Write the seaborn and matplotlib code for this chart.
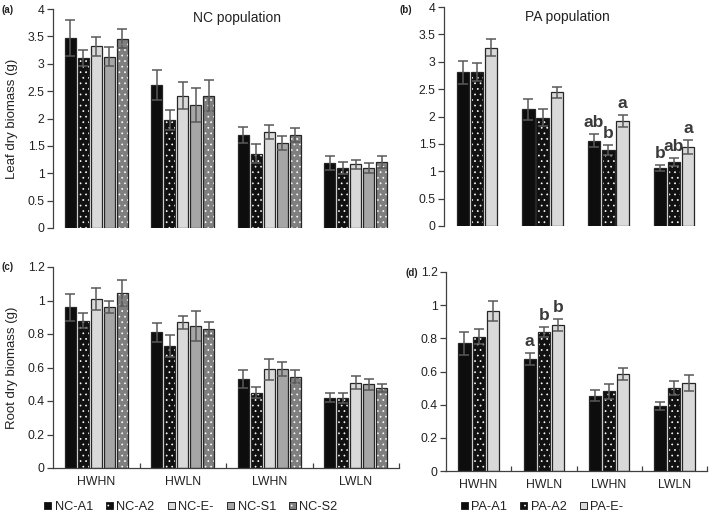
import numpy as np
import pandas as pd
import matplotlib
matplotlib.use("Agg")
import matplotlib.pyplot as plt
import matplotlib.colors as mcolors
from matplotlib.patches import Patch
from matplotlib.ticker import FuncFormatter, MultipleLocator, FixedLocator
import seaborn as sns

# ---------------- data ----------------
treatments = ["HWHN", "HWLN", "LWHN", "LWLN"]
nc_lines = ["NC-A1", "NC-A2", "NC-E-", "NC-S1", "NC-S2"]
pa_lines = ["PA-A1", "PA-A2", "PA-E-"]

# (a) NC leaf dry biomass (g)
nc_leaf_a1 = [3.47, 2.61, 1.70, 1.19]
nc_leaf_a2 = [3.10, 1.97, 1.36, 1.09]
nc_leaf_e = [3.32, 2.42, 1.75, 1.16]
nc_leaf_s1 = [3.13, 2.25, 1.55, 1.10]
nc_leaf_s2 = [3.46, 2.42, 1.70, 1.21]
nc_leaf_a1_se = [0.33, 0.27, 0.15, 0.13]
nc_leaf_a2_se = [0.15, 0.18, 0.18, 0.11]
nc_leaf_e_se = [0.17, 0.24, 0.13, 0.08]
nc_leaf_s1_se = [0.17, 0.31, 0.13, 0.09]
nc_leaf_s2_se = [0.17, 0.28, 0.13, 0.11]

# (b) PA leaf dry biomass (g)
pa_leaf_a1 = [2.81, 2.13, 1.56, 1.06]
pa_leaf_a2 = [2.81, 1.98, 1.39, 1.17]
pa_leaf_e = [3.26, 2.44, 1.92, 1.44]
pa_leaf_a1_se = [0.21, 0.19, 0.12, 0.05]
pa_leaf_a2_se = [0.16, 0.15, 0.09, 0.07]
pa_leaf_e_se = [0.15, 0.10, 0.11, 0.13]
pa_leaf_a1_letters = ["", "", "ab", "b"]
pa_leaf_a2_letters = ["", "", "b", "ab"]
pa_leaf_e_letters = ["", "", "a", "a"]

# (c) NC root dry biomass (g)
nc_root_a1 = [0.96, 0.81, 0.53, 0.42]
nc_root_a2 = [0.88, 0.73, 0.45, 0.42]
nc_root_e = [1.01, 0.87, 0.59, 0.51]
nc_root_s1 = [0.96, 0.85, 0.59, 0.50]
nc_root_s2 = [1.045, 0.83, 0.545, 0.48]
nc_root_a1_se = [0.08, 0.057, 0.055, 0.025]
nc_root_a2_se = [0.045, 0.065, 0.032, 0.03]
nc_root_e_se = [0.065, 0.038, 0.062, 0.037]
nc_root_s1_se = [0.036, 0.09, 0.042, 0.034]
nc_root_s2_se = [0.077, 0.04, 0.038, 0.024]

# (d) PA root dry biomass (g)
pa_root_a1 = [0.77, 0.675, 0.455, 0.39]
pa_root_a2 = [0.81, 0.84, 0.48, 0.50]
pa_root_e = [0.965, 0.88, 0.585, 0.53]
pa_root_a1_se = [0.068, 0.037, 0.035, 0.025]
pa_root_a2_se = [0.047, 0.03, 0.045, 0.04]
pa_root_e_se = [0.063, 0.037, 0.035, 0.048]
pa_root_a1_letters = ["", "a", "", ""]
pa_root_a2_letters = ["", "b", "", ""]
pa_root_e_letters = ["", "b", "", ""]

# ---------------- style ----------------
nc_colors = ["#0d0d0d", "#111111", "#d9d9d9", "#a6a6a6", "#7f7f7f"]
nc_hatched = [False, True, False, False, True]
pa_colors = ["#0d0d0d", "#111111", "#d9d9d9"]
pa_hatched = [False, True, False]
EDGE = "#262626"
AXC = "#404040"

sns.set_theme(style="white")
plt.rcParams["font.family"] = ["Liberation Sans", "DejaVu Sans"]
plt.rcParams["hatch.linewidth"] = 0.5


def white_hatch(p):
    if hasattr(p, "set_hatchcolor"):
        p.set_hatchcolor("white")
    else:
        p._hatch_color = mcolors.to_rgba("white")


fmt = FuncFormatter(lambda v, pos: f"{v:g}")


def panel(ax, lines, series, errs, colors, hatched, width, ylim, ystep,
          letters=None, show_x=False, ylabel=None):
    df = pd.DataFrame({
        "treatment": np.tile(treatments, len(lines)),
        "line": np.repeat(lines, len(treatments)),
        "value": np.concatenate(series),
    })
    sns.barplot(data=df, x="treatment", y="value", hue="line",
                order=treatments, hue_order=lines, palette=colors,
                saturation=1, width=width, gap=0.14, edgecolor=EDGE,
                linewidth=0.9, errorbar=None, legend=False, ax=ax)
    conts = list(ax.containers)
    for k, cont in enumerate(conts):
        xs = [p.get_x() + p.get_width() / 2 for p in cont]
        ys = [p.get_height() for p in cont]
        if hatched[k]:
            for p in cont:
                p.set_hatch("...")
                white_hatch(p)
        ax.errorbar(xs, ys, yerr=errs[k], fmt="none", ecolor="#595959",
                    elinewidth=1.1, capsize=3.4, capthick=1.1, zorder=5)
        if letters is not None:
            for x, y, e, t in zip(xs, ys, errs[k], letters[k]):
                if t:
                    ax.annotate(t, (x, y + e), xytext=(0, 3),
                                textcoords="offset points", ha="center",
                                va="bottom", fontsize=12.5, fontweight="bold",
                                color="#3a3a3a")
    ax.set_xlim(-0.5, len(treatments) - 0.5)
    ax.set_ylim(*ylim)
    ax.yaxis.set_major_locator(MultipleLocator(ystep))
    ax.yaxis.set_major_formatter(fmt)
    ax.tick_params(axis="y", direction="out", length=4, width=0.9,
                   color=AXC, labelsize=8.8, labelcolor="#222222", pad=2,
                   left=True)
    for s in ["top", "right"]:
        ax.spines[s].set_visible(False)
    ax.spines["left"].set_color(AXC)
    ax.spines["left"].set_linewidth(0.9)
    ax.set_xlabel("")
    if ylabel:
        ax.set_ylabel(ylabel, fontsize=9.5, color="#222222")
        ax.yaxis.label.set_verticalalignment("center")
        bbox = ax.get_position()
        ax.yaxis.set_label_coords(-(bbox.x0 * W - 12) / (bbox.width * W), 0.5)
    else:
        ax.set_ylabel("")
    if show_x:
        ax.spines["bottom"].set_color(AXC)
        ax.spines["bottom"].set_linewidth(0.9)
        ax.xaxis.set_minor_locator(FixedLocator([0.5, 1.5, 2.5, 3.5]))
        ax.tick_params(axis="x", which="major", length=0, labelsize=8.8,
                       labelcolor="#222222", pad=6, bottom=True)
        ax.tick_params(axis="x", which="minor", direction="in", length=3.5,
                       width=0.9, color=AXC, bottom=True)
    else:
        ax.spines["bottom"].set_visible(False)
        ax.tick_params(axis="x", which="both", bottom=False,
                       labelbottom=False)


W, H = 709, 516
fig = plt.figure(figsize=(W / 100, H / 100), dpi=100)


def axes_px(x0, y0, x1, y1):
    return fig.add_axes([x0 / W, 1 - y1 / H, (x1 - x0) / W, (y1 - y0) / H])


ax_a = axes_px(53, 9, 399, 228)
ax_b = axes_px(444, 7, 707, 226)
ax_c = axes_px(53, 267, 399, 468)
ax_d = axes_px(446, 272, 707, 471)

panel(ax_a, nc_lines,
      [nc_leaf_a1, nc_leaf_a2, nc_leaf_e, nc_leaf_s1, nc_leaf_s2],
      [nc_leaf_a1_se, nc_leaf_a2_se, nc_leaf_e_se, nc_leaf_s1_se, nc_leaf_s2_se],
      nc_colors, nc_hatched, 0.75, (0, 4), 0.5,
      ylabel="Leaf dry biomass (g)")
panel(ax_b, pa_lines,
      [pa_leaf_a1, pa_leaf_a2, pa_leaf_e],
      [pa_leaf_a1_se, pa_leaf_a2_se, pa_leaf_e_se],
      pa_colors, pa_hatched, 0.65, (0, 4), 0.5,
      letters=[pa_leaf_a1_letters, pa_leaf_a2_letters, pa_leaf_e_letters])
panel(ax_c, nc_lines,
      [nc_root_a1, nc_root_a2, nc_root_e, nc_root_s1, nc_root_s2],
      [nc_root_a1_se, nc_root_a2_se, nc_root_e_se, nc_root_s1_se, nc_root_s2_se],
      nc_colors, nc_hatched, 0.75, (0, 1.2), 0.2,
      show_x=True, ylabel="Root dry biomass (g)")
panel(ax_d, pa_lines,
      [pa_root_a1, pa_root_a2, pa_root_e],
      [pa_root_a1_se, pa_root_a2_se, pa_root_e_se],
      pa_colors, pa_hatched, 0.65, (0, 1.2), 0.2,
      letters=[pa_root_a1_letters, pa_root_a2_letters, pa_root_e_letters],
      show_x=True)

# titles and panel labels
fig.text(237 / W, 1 - 18 / H, "NC population", ha="center", va="center",
         fontsize=10, color="#222222")
fig.text(567 / W, 1 - 17 / H, "PA population", ha="center", va="center",
         fontsize=10, color="#222222")
for lab, x, y in [("(a)", 2, 10), ("(b)", 400, 10), ("(c)", 2, 267),
                  ("(d)", 406, 273)]:
    fig.text(x / W, 1 - y / H, lab, ha="left", va="center", fontsize=7,
             fontweight="bold", color="#222222")


def legend_handles(lines, colors, hatched):
    hs = []
    for lab, c, h in zip(lines, colors, hatched):
        p = Patch(facecolor=c, edgecolor=EDGE, linewidth=0.7,
                  hatch="..." if h else None, label=lab)
        if h:
            white_hatch(p)
        hs.append(p)
    return hs


fig.legend(handles=legend_handles(nc_lines, nc_colors, nc_hatched),
           loc="center", bbox_to_anchor=(191 / W, 1 - 507 / H), ncol=5,
           frameon=False, fontsize=9.2, handlelength=0.55, handleheight=0.55,
           handletextpad=0.25, columnspacing=1.05, borderpad=0,
           labelcolor="#222222")
fig.legend(handles=legend_handles(pa_lines, pa_colors, pa_hatched),
           loc="center", bbox_to_anchor=(542 / W, 1 - 507 / H), ncol=3,
           frameon=False, fontsize=9.2, handlelength=0.55, handleheight=0.55,
           handletextpad=0.25, columnspacing=1.05, borderpad=0,
           labelcolor="#222222")

fig.savefig("out.png", dpi=100)
